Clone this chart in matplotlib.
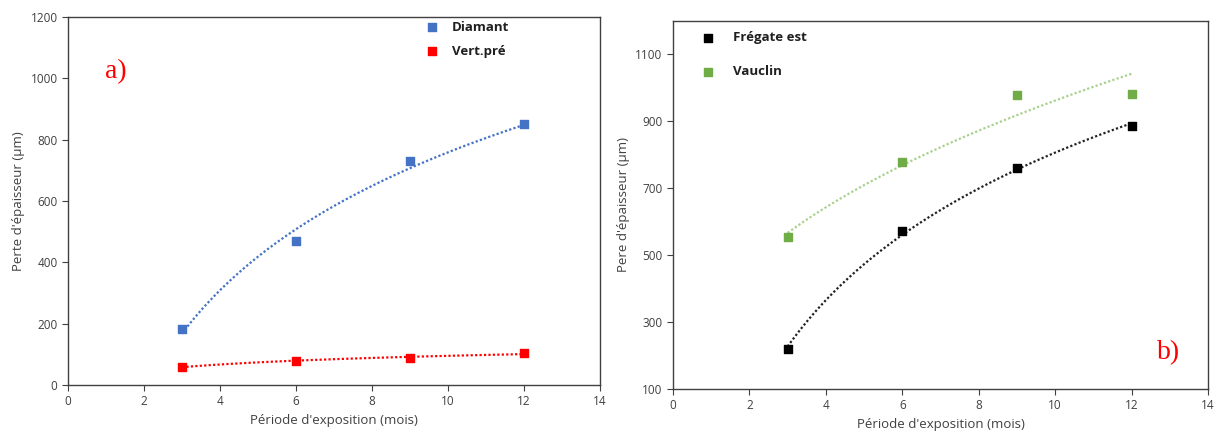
import numpy as np
import matplotlib.pyplot as plt

# data
mois = [3, 6, 9, 12]
diamant = [183, 468, 730, 850]
vert_pre = [60, 77, 88, 105]
fregate = [220, 573, 760, 885]
vauclin = [555, 780, 980, 983]

plt.rcParams['font.family'] = ['Open Sans', 'DejaVu Sans']

def log_trend(x, y):
    a, b = np.polyfit(np.log(x), y, 1)
    xx = np.linspace(min(x), max(x), 100)
    return xx, a * np.log(xx) + b

def power_trend(x, y):
    b, c = np.polyfit(np.log(x), np.log(y), 1)
    xx = np.linspace(min(x), max(x), 100)
    return xx, np.exp(c) * xx ** b

fig = plt.figure(figsize=(12.17, 4.41), dpi=100)
ax1 = fig.add_axes([68/1217, 1-385/441, 532/1217, 368/441])
ax2 = fig.add_axes([673/1217, 1-389/441, 535/1217, 368/441])

dots = (0, (1, 1))
ms = 36

def style(ax):
    for s in ax.spines.values():
        s.set_color('#404040')
        s.set_linewidth(1.0)
    ax.tick_params(labelsize=8.5, colors='#404040', length=4, width=0.8)
    ax.set_xlim(0, 14)
    ax.set_xticks(range(0, 15, 2))

# panel a
xx, yy = log_trend(mois, diamant)
ax1.plot(xx, yy, ls=dots, lw=1.6, color='#4472C4')
xx, yy = log_trend(mois, vert_pre)
ax1.plot(xx, yy, ls=dots, lw=1.6, color='#FF0000')
ax1.scatter(mois, diamant, marker='s', s=ms, color='#4472C4', zorder=3)
ax1.scatter(mois, vert_pre, marker='s', s=ms, color='#FF0000', zorder=3)
style(ax1)
ax1.set_ylim(0, 1200)
ax1.set_yticks(range(0, 1201, 200))
ax1.set_ylabel("Perte d'épaisseur (µm)", fontsize=9.5, color='#404040')
ax1.set_xlabel("Période d'exposition (mois)", fontsize=9.5, color='#404040')
ax1.text(0.07, 0.835, 'a)', transform=ax1.transAxes, color='red',
         family='Liberation Serif', fontsize=20)
ax1.scatter([0.684], [0.972], transform=ax1.transAxes, marker='s', s=ms,
            color='#4472C4', clip_on=False)
ax1.text(0.722, 0.972, 'Diamant', transform=ax1.transAxes, va='center',
         fontsize=9.5, fontweight='bold', color='#202020')
ax1.scatter([0.684], [0.907], transform=ax1.transAxes, marker='s', s=ms,
            color='#FF0000', clip_on=False)
ax1.text(0.722, 0.907, 'Vert.pré', transform=ax1.transAxes, va='center',
         fontsize=9.5, fontweight='bold', color='#202020')

# panel b
xx, yy = log_trend(mois, fregate)
ax2.plot(xx, yy, ls=dots, lw=1.6, color='#222222')
xx, yy = power_trend(mois, vauclin)
ax2.plot(xx, yy, ls=dots, lw=1.6, color='#A9D18E')
ax2.scatter(mois, fregate, marker='s', s=ms, color='black', zorder=3)
ax2.scatter(mois, vauclin, marker='s', s=ms, color='#70AD47', zorder=3)
style(ax2)
ax2.set_ylim(100, 1200)
ax2.set_yticks(range(100, 1101, 200))
ax2.set_ylabel("Pere d'épaisseur (µm)", fontsize=9.5, color='#404040')
ax2.set_xlabel("Période d'exposition (mois)", fontsize=9.5, color='#404040')
ax2.text(0.905, 0.08, 'b)', transform=ax2.transAxes, color='red',
         family='Liberation Serif', fontsize=20)
ax2.scatter([0.066], [0.955], transform=ax2.transAxes, marker='s', s=ms,
            color='black', clip_on=False)
ax2.text(0.112, 0.955, 'Frégate est', transform=ax2.transAxes, va='center',
         fontsize=9.5, fontweight='bold', color='#202020')
ax2.scatter([0.066], [0.862], transform=ax2.transAxes, marker='s', s=ms,
            color='#70AD47', clip_on=False)
ax2.text(0.112, 0.862, 'Vauclin', transform=ax2.transAxes, va='center',
         fontsize=9.5, fontweight='bold', color='#202020')

fig.savefig('out.png', dpi=100)
